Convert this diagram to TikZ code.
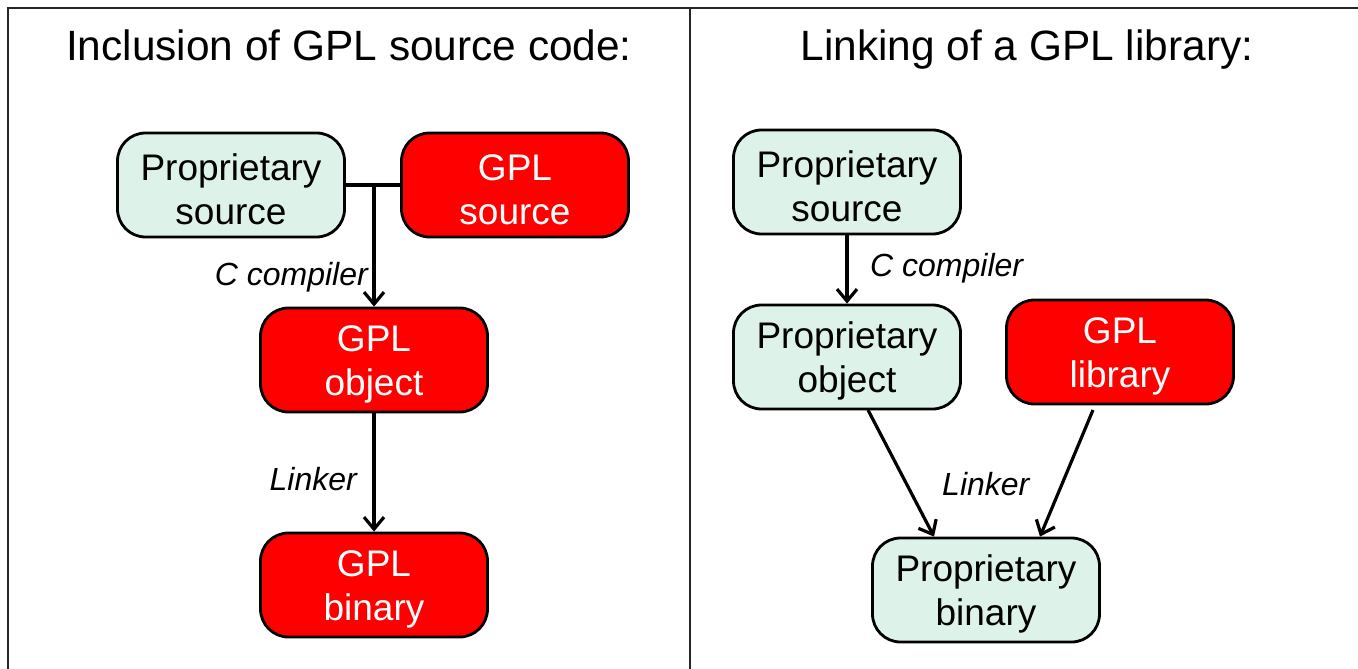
\documentclass[tikz,border=0pt]{standalone}
\usepackage{fontspec}
\setmainfont{Liberation Sans}
\usetikzlibrary{arrows.meta}
\definecolor{propgreen}{HTML}{DDF2E8}
\definecolor{gplred}{HTML}{FF0000}
\newcommand\mytopstrut{\rule{0pt}{35pt}}
\tikzset{
  box/.style={draw=black, line width=2.8pt, rounded corners=28pt,
    minimum width=227pt, minimum height=104pt, align=center,
    font=\fontsize{37}{44}\selectfont, inner sep=0pt},
  propbox/.style={box, fill=propgreen, text=black},
  gplbox/.style={box, fill=gplred, text=white},
  conn/.style={line width=3.2pt, -{Straight Barb[length=12pt,width=20pt,line width=3.2pt]}},
  plainconn/.style={line width=3.2pt},
  lbl/.style={font=\fontsize{32}{38}\selectfont\itshape, inner sep=0pt},
  ttl/.style={font=\fontsize{42.4}{50}\selectfont, inner sep=0pt},
  frame/.style={line width=2.6pt, draw=black!85}
}
\begin{document}
\begin{tikzpicture}[x=1pt,y=-1pt]
\useasboundingbox (0,0) rectangle (1358,669);
\fill[white] (0,0) rectangle (1358,669);
% frame
\draw[frame] (8,669) -- (8,8) -- (1358,8);
\draw[frame] (690,8) -- (690,669);
% titles
\node[ttl, anchor=base] (t1) at (349,60) {Inclusion of GPL source code:};
\node[ttl, anchor=base] (t2) at (1027,60) {Linking of a GPL library:};
% left panel
\node[propbox] (ps) at (231,185) {\mytopstrut Proprietary\\source};
\node[gplbox] (gs) at (515,185) {\mytopstrut GPL\\source};
\node[gplbox] (go) at (374,360) {\mytopstrut GPL\\object};
\node[gplbox] (gb) at (374,585) {\mytopstrut GPL\\binary};
\coordinate (j) at (374,185);
\draw[plainconn] (ps.east) -- (gs.west);
\draw[conn] (j) -- (go.north);
\draw[conn] (go.south) -- (gb.north);
\node[lbl, anchor=base east] (cc1) at (368,285) {C compiler};
\node[lbl, anchor=base east] (lk1) at (357,490) {Linker};
% right panel
\node[propbox] (rps) at (847,182) {\mytopstrut Proprietary\\source};
\node[propbox] (rpo) at (847,357) {\mytopstrut Proprietary\\object};
\node[gplbox] (rgl) at (1120,352) {\mytopstrut GPL\\library};
\node[propbox] (rpb) at (986,590) {\mytopstrut Proprietary\\binary};
\draw[conn] (rps.south) -- (rpo.north);
\coordinate (a1) at (868,410);
\coordinate (a2) at (1093,410);
\draw[conn] (a1) -- (rpb.north -| 934,0);
\draw[conn] (a2) -- (rpb.north -| 1040,0);
\node[lbl, anchor=base west] (cc2) at (870,276) {C compiler};
\node[lbl, anchor=base west] (lk2) at (942,495) {Linker};
\end{tikzpicture}
\end{document}
